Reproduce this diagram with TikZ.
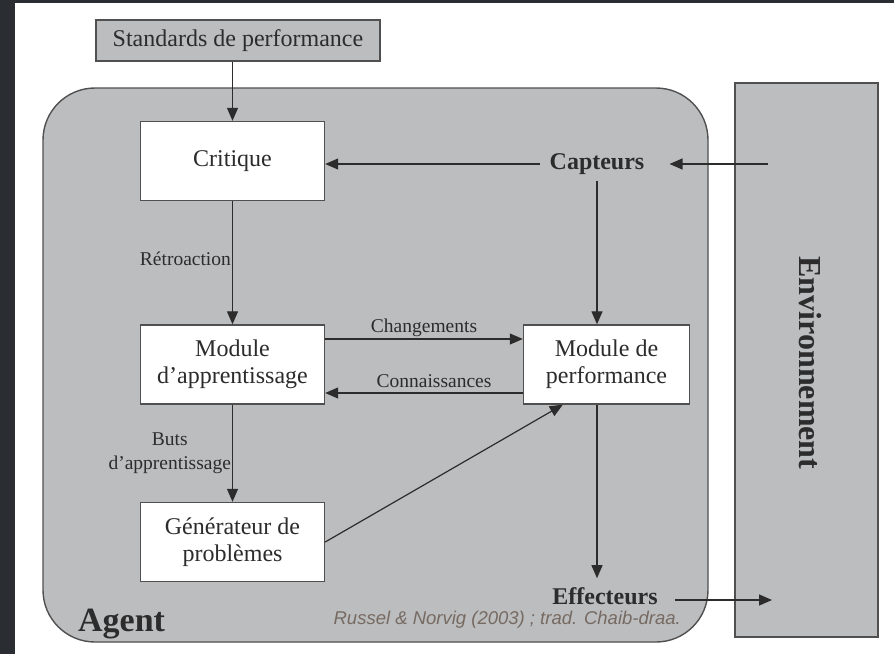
\documentclass[tikz,border=0pt]{standalone}
\usepackage{fontspec}
\setmainfont{Liberation Serif}
\newfontfamily\notefont{Liberation Sans}
\usetikzlibrary{arrows.meta}
\definecolor{panel}{RGB}{188,189,191}
\definecolor{ink}{RGB}{44,44,44}
\definecolor{edge}{RGB}{80,80,80}
\definecolor{frame}{RGB}{42,45,50}
\definecolor{credit}{RGB}{118,106,98}

\begin{document}
\begin{tikzpicture}[x=1pt,y=-1pt,
  box/.style={draw=edge, line width=1.4pt, fill=white, minimum width=184pt,
    minimum height=79pt, align=center, text=ink, inner sep=0pt,
    font=\fontsize{24}{27}\selectfont},
  flow/.style={draw=ink, line width=1.2pt, -{Triangle[length=13pt,width=11pt]}},
  lbl/.style={font=\fontsize{19.5}{24}\selectfont, text=ink, inner sep=1pt},
  heading/.style={font=\fontsize{24}{27}\selectfont\bfseries, text=ink,
    inner xsep=9pt, inner ysep=6pt}]

% canvas and dark frame strips
\useasboundingbox (0,0) rectangle (894,654);
\fill[white] (0,0) rectangle (894,654);
\fill[frame] (0,0) rectangle (15,654);
\fill[frame] (0,0) rectangle (894,3);

% agent and environment panels
\draw[draw=edge, line width=1.4pt, fill=panel, rounded corners=52pt]
  (43,88) rectangle (708,642);
\draw[draw=edge, line width=1.4pt, fill=panel] (735,83) rectangle (878,637);
\node[rotate=-90, font=\fontsize{32}{34}\selectfont\bfseries, text=ink]
  (env) at (810,363) {Environnement};

% boxes
\node[draw=edge, line width=1.4pt, fill=panel, minimum width=284pt,
  minimum height=41pt, inner sep=0pt, text=ink,
  font=\fontsize{24}{27}\selectfont] (std) at (238,40.5) {Standards de performance};
\node[box] (crit) at (232.5,161) {Critique};
\node[box] (learn) at (232.5,364.5) {Module\\d’apprentissage};
\node[box, minimum width=166pt] (perf) at (606.5,364.5) {Module de\\performance};
\node[box] (gen) at (232.5,542) {Générateur de\\problèmes};

% sensors and effectors
\node[heading] (capt) at (597,164) {Capteurs};
\node[heading] (eff) at (605,596) {Effecteurs};
\coordinate (envin) at (768,164);
\coordinate (envout) at (772,600);

% captions
\node[font=\fontsize{34}{36}\selectfont\bfseries, text=ink, anchor=base west,
  inner sep=0pt] (agent) at (78,631) {Agent};
\node[font=\notefont\itshape\fontsize{18.5}{21}\selectfont, text=credit,
  anchor=base east, inner sep=0pt] (cred) at (681,624)
  {Russel \& Norvig (2003) ; trad. Chaib-draa.};

% connectors
\draw[flow] (crit.north |- std.south) -- (crit.north);
\draw[flow, shorten >=16pt] (envin) -- (capt.east);
\draw[flow] (capt.west) -- (capt.west -| crit.east);
\draw[flow] (capt.south) -- (capt.south |- perf.north);
\draw[flow] (crit) -- (learn)
  node[lbl, pos=0.47, anchor=east] (retro) {Rétroaction};
\draw[flow] ([yshift=25.5pt]learn.east) -- ([yshift=25.5pt]perf.west)
  node[lbl, midway, anchor=base, yshift=7pt] (chg) {Changements};
\draw[flow] ([yshift=-28.5pt]perf.west) -- ([yshift=-28.5pt]learn.east)
  node[lbl, midway, anchor=base, yshift=6pt, xshift=10pt] (know) {Connaissances};
\draw[flow] (learn) -- (gen)
  node[lbl, pos=0.5, anchor=east, align=center] (goals) {Buts\\d’apprentissage};
\draw[flow] (gen.east) -- ([xshift=40pt]perf.south west);
\draw[flow, shorten >=3pt] (capt.south |- perf.south) -- (capt.south |- eff.north);
\draw[flow, shorten <=8pt] ([yshift=-4pt]eff.east) -- ([yshift=-4pt]eff.east -| envout);

\end{tikzpicture}
\end{document}
